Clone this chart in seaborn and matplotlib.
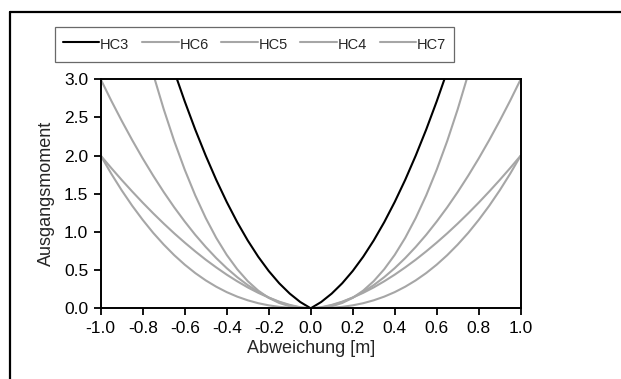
import numpy as np
import pandas as pd
import seaborn as sns
import matplotlib
matplotlib.use("Agg")
import matplotlib.pyplot as plt
from matplotlib.lines import Line2D

# deviation [m], every 0.05 from -1.0 to 1.0
x_vals = [-1.0, -0.95, -0.90, -0.85, -0.80, -0.75, -0.70, -0.65, -0.60, -0.55,
          -0.50, -0.45, -0.40, -0.35, -0.30, -0.25, -0.20, -0.15, -0.10, -0.05,
          0.0, 0.05, 0.10, 0.15, 0.20, 0.25, 0.30, 0.35, 0.40, 0.45, 0.50,
          0.55, 0.60, 0.65, 0.70, 0.75, 0.80, 0.85, 0.90, 0.95, 1.0]

nan = np.nan
hc3 = [nan, nan, nan, nan, nan, nan, 3.525, 3.105, 2.711, 2.342, 2.000, 1.683,
       1.393, 1.128, 0.889, 0.676, 0.489, 0.328, 0.193, 0.083,
       0.0, 0.083, 0.193, 0.328, 0.489, 0.676, 0.889, 1.128, 1.393, 1.683,
       2.000, 2.342, 2.711, 3.105, 3.525, nan, nan, nan, nan, nan, nan]
hc6 = [nan, nan, nan, nan, 3.569, 3.067, 2.608, 2.191, 1.816, 1.480, 1.183, 0.923,
       0.700, 0.512, 0.356, 0.232, 0.137, 0.070, 0.027, 0.005,
       0.0, 0.005, 0.027, 0.070, 0.137, 0.232, 0.356, 0.512, 0.700, 0.923,
       1.183, 1.480, 1.816, 2.191, 2.608, 3.067, 3.569, nan, nan, nan, nan]
hc5 = [3.0, 2.721, 2.456, 2.203, 1.963, 1.737, 1.523, 1.323, 1.137, 0.963, 0.804,
       0.658, 0.526, 0.408, 0.304, 0.215, 0.141, 0.082, 0.038, 0.010,
       0.0, 0.010, 0.038, 0.082, 0.141, 0.215, 0.304, 0.408, 0.526, 0.658,
       0.804, 0.963, 1.137, 1.323, 1.523, 1.737, 1.963, 2.203, 2.456, 2.721, 3.0]
hc4 = [2.0, 1.838, 1.681, 1.530, 1.384, 1.244, 1.110, 0.982, 0.861, 0.746, 0.637,
       0.536, 0.441, 0.354, 0.274, 0.203, 0.141, 0.087, 0.045, 0.014,
       0.0, 0.014, 0.045, 0.087, 0.141, 0.203, 0.274, 0.354, 0.441, 0.536,
       0.637, 0.746, 0.861, 0.982, 1.110, 1.244, 1.384, 1.530, 1.681, 1.838, 2.0]
hc7 = [2.0, 1.764, 1.545, 1.343, 1.158, 0.988, 0.835, 0.696, 0.572, 0.462, 0.366,
       0.283, 0.212, 0.153, 0.105, 0.067, 0.039, 0.019, 0.007, 0.001,
       0.0, 0.001, 0.007, 0.019, 0.039, 0.067, 0.105, 0.153, 0.212, 0.283,
       0.366, 0.462, 0.572, 0.696, 0.835, 0.988, 1.158, 1.343, 1.545, 1.764, 2.0]

series = {"HC3": hc3, "HC6": hc6, "HC5": hc5, "HC4": hc4, "HC7": hc7}
colors = {"HC3": "black", "HC6": "#a6a6a6", "HC5": "#a6a6a6",
          "HC4": "#a6a6a6", "HC7": "#a6a6a6"}

x_ticks = [-1.0, -0.8, -0.6, -0.4, -0.2, 0.0, 0.2, 0.4, 0.6, 0.8, 1.0]
y_ticks = [0.0, 0.5, 1.0, 1.5, 2.0, 2.5, 3.0]

sns.set_style("white")
plt.rcParams["font.family"] = ["Liberation Sans", "DejaVu Sans"]

fig = plt.figure(figsize=(6.21, 3.79), dpi=100)
ax = fig.add_axes([0.1622, 0.1865, 0.6763, 0.6043])

for name, vals in series.items():
    df = pd.DataFrame({"x": x_vals, "y": vals})
    sns.lineplot(data=df, x="x", y="y", ax=ax, color=colors[name], linewidth=1.5,
                 estimator=None, label=name)

ax.set_xlim(-1.0, 1.0)
ax.set_ylim(0.0, 3.0)
ax.set_xticks(x_ticks)
ax.set_yticks(y_ticks)
ax.set_xticklabels([f"{v:.1f}" for v in x_ticks])
ax.set_yticklabels([f"{v:.1f}" for v in y_ticks])
ax.tick_params(axis="both", direction="out", length=5, width=1.3, labelsize=12.5,
               color="black", labelcolor="black", bottom=True, left=True)
ax.tick_params(axis="x", pad=4)
ax.tick_params(axis="y", pad=4)
for sp in ax.spines.values():
    sp.set_color("black")
    sp.set_linewidth(1.4)
ax.set_xlabel("Abweichung [m]", fontsize=13)
ax.set_ylabel("Ausgangsmoment", fontsize=13)
ax.xaxis.set_label_coords(0.5, -0.14)
ax.yaxis.set_label_coords(-0.11, 0.5)

leg = ax.legend(loc="lower left", bbox_to_anchor=(0.0886, 0.8364, 0.6425, 0.1056),
                bbox_transform=fig.transFigure, ncol=5, mode="expand",
                fontsize=10.5, handlelength=2.5, handleheight=1.6,
                handletextpad=0.05, borderaxespad=0,
                frameon=True, fancybox=False, borderpad=0.55, columnspacing=1.0)
leg.get_frame().set_edgecolor("#444444")
leg.get_frame().set_linewidth(0.9)

# partial frame round the chart (left and top edges)
fig.add_artist(Line2D([0.0161, 0.0161], [0.0, 0.9683], transform=fig.transFigure,
                      color="black", linewidth=1.6))
fig.add_artist(Line2D([0.0161, 1.0], [0.9683, 0.9683], transform=fig.transFigure,
                      color="black", linewidth=1.6))

fig.savefig("out.png", dpi=100)
